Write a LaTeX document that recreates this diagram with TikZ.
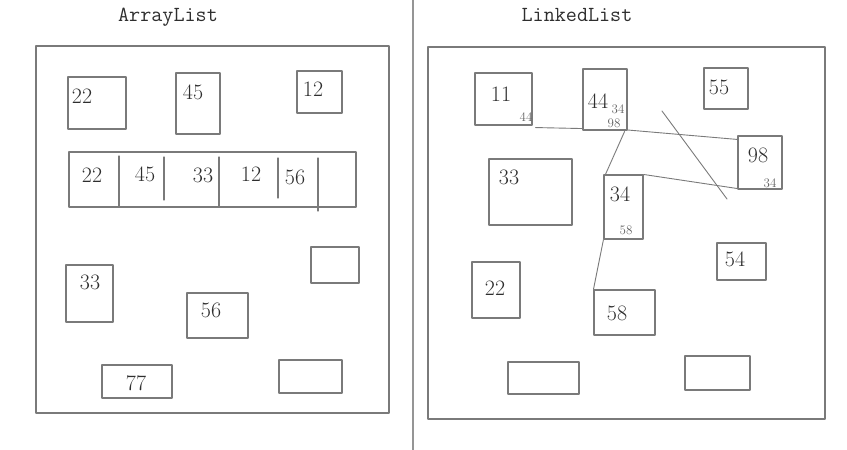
\documentclass[tikz,border=0pt]{standalone}
\usepackage{fontspec}
\usepackage{xcolor}
\usetikzlibrary{calc,fit,positioning}
\definecolor{memline}{HTML}{7A7A7A}
\definecolor{memink}{HTML}{2E2E2E}
\tikzset{
  every picture/.append style={line cap=round,line join=round},
  mem box/.style={draw=memline,line width=1.1pt,inner sep=0pt},
  mem num/.style={text=memink,font=\fontsize{22}{22}\selectfont,inner sep=0pt},
  mem ptr/.style={text=memink!75,font=\fontsize{13}{13}\selectfont,inner sep=0pt},
  mem title/.style={text=memink,font=\ttfamily\fontsize{21.5}{22}\selectfont,inner sep=0pt},
  mem link/.style={draw=memline,line width=0.9pt}
}

\begin{document}
\begin{tikzpicture}[x=1pt,y=-1pt]
  \useasboundingbox (0,0) rectangle (847,450);
  \draw[memline!80,line width=1.2pt] (413,0) -- (413,450);
  \node[mem title] (tArr) at (168,17) {ArrayList};
  \node[mem title] (tLnk) at (577,15) {LinkedList};
  % frames and memory cells
  \foreach \nm/\xa/\ya/\xb/\yb in {arrFrame/36/46/389/413,lnkFrame/428/47/825/419,
      a22/68/77/126/129,a45/176/73/220/134,a12/297/71/342/113,arr/69/152/356/207,
      aE1/311/247/359/283,a33/66/265/113/322,a56/187/293/248/338,a77/102/365/172/398,
      aE2/279/360/342/393,
      l11/475/73/532/125,l44/583/69/627/130,l55/704/68/748/109,l98/738/136/782/189,
      l33/489/159/572/225,l34/604/175/643/239,l22/472/262/520/318,l58/594/290/655/335,
      l54/717/243/766/280,lE1/508/362/579/394,lE2/685/356/750/390} {
    \coordinate (\nm-nw) at (\xa,\ya);
    \coordinate (\nm-se) at (\xb,\yb);
    \node[mem box,fit=(\nm-nw)(\nm-se)] (\nm) {};
  }
  \foreach \x/\ya/\yb in {119/156/207,164/157/200,219/157/207,278/158/198,318/158/211}
    \draw[mem box] (\x,\ya) -- (\x,\yb);
  % values
  \foreach \nm/\x/\y/\v in {va22/82/96/22,va45/193/92/45,va12/313/89/12,
      vr1/92/175/22,vr2/145/174/45,vr3/203/175/33,vr4/251/174/12,vr5/295/177/56,
      va33/90/282/33,va56/211/310/56,va77/136/383/77,
      vl11/501/94/11,vl44/598/101/44,vl55/719/87/55,vl98/758/155/98,vl33/509/177/33,
      vl34/620/194/34,vl22/495/288/22,vl58/617/313/58,vl54/735/259/54}
    \node[mem num] (\nm) at (\x,\y) {\v};
  \foreach \nm/\x/\y/\v in {p11/526/117/44,p44a/618/109/34,p44b/614/123/98,
      p98/770/183/34,p34/626/230/58}
    \node[mem ptr] (\nm) at (\x,\y) {\v};
  % links
  \draw[mem link] ([shift={(3,2)}]l11.south east) -- ([shift={(0,-2)}]l44.south west);
  \draw[mem link] ([shift={(-5,-1)}]l44.south east) -- ([shift={(0,4)}]l98.north west);
  \draw[mem link] ([shift={(-3,1)}]l44.south east) -- ([shift={(2,0)}]l34.north west);
  \draw[mem link] (l34.north east) -- ([shift={(0,-1)}]l98.south west);
  \draw[mem link] (l34.south west) -- (l58.north west);
  \coordinate (strokeA) at (662,111);
  \coordinate (strokeB) at (727,199);
  \draw[mem link] (strokeA) -- (strokeB);
\end{tikzpicture}
\end{document}
